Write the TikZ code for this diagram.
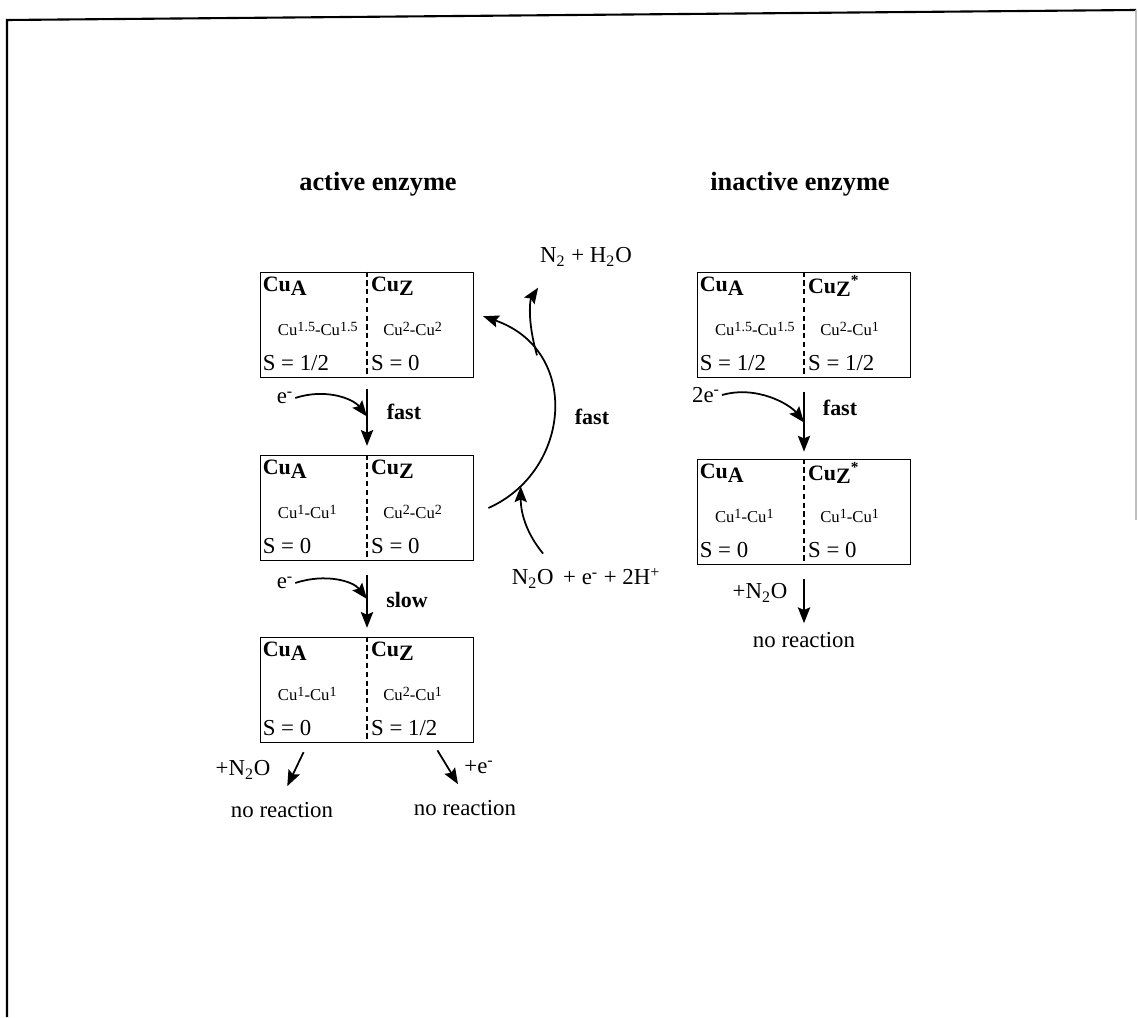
\documentclass[tikz,border=0pt]{standalone}
\usepackage{fontspec}
\setmainfont{Liberation Serif}
\usetikzlibrary{arrows.meta,calc,positioning}

% oxidation state, raised; copper site label
\newcommand{\ox}[1]{\raisebox{0.55ex}{\fontsize{8}{8}\selectfont #1}}
\newcommand{\site}[1]{Cu\raisebox{-0.35ex}{#1}}

% one state box: name, centre, left head, right head, left ox, right ox, left spin, right spin
\newcommand{\cubox}[8]{%
  \node[statebox] (#1) at #2 {};
  \draw[divider] (#1.north) -- (#1.south);
  \node[boxhead] (#1-hl) at ($(#1.west)+(1,-39)$) {#3};
  \node[boxhead] (#1-hr) at ($(#1.center)+(2,-39)$) {#4};
  \node[oxlabel] (#1-ol) at ($(#1.west)+(18,4)$) {#5};
  \node[oxlabel] (#1-or) at ($(#1.center)+(16,4)$) {#6};
  \node[spinlabel] (#1-sl) at ($(#1.west)+(1,38)$) {#7};
  \node[spinlabel] (#1-sr) at ($(#1.center)+(2,38)$) {#8};
}

\begin{document}
\begin{tikzpicture}[x=0.02cm, y=-0.02cm,
  statebox/.style={draw, line width=1pt, minimum width=4.26cm, minimum height=2.1cm, inner sep=0pt},
  divider/.style={line width=0.7pt, dash pattern=on 3pt off 2pt},
  boxhead/.style={font=\fontsize{12.5}{14}\selectfont\bfseries, inner sep=1pt, anchor=west},
  oxlabel/.style={font=\fontsize{9.5}{11}\selectfont, inner sep=0pt, anchor=west},
  spinlabel/.style={font=\fontsize{13}{15}\selectfont, inner sep=1pt, anchor=west},
  heading/.style={font=\fontsize{15}{18}\selectfont\bfseries},
  species/.style={font=\fontsize{13}{15}\selectfont, inner sep=1pt},
  ratelabel/.style={font=\fontsize{12.5}{14}\selectfont\bfseries, inner sep=1pt},
  rxn/.style={line width=1pt, -{Stealth[length=9pt, width=7pt, inset=1.5pt]}},
]
\useasboundingbox (0,0) rectangle (1138,1017);

% === Frame ===
\draw[line width=1.2pt] (7,1017) -- (7,20) -- (1136,10);
\draw[gray!50, line width=0.6pt] (1136,10) -- (1136,520);

% === Headings ===
\node[heading] (headAct) at (378,184) {active enzyme};
\node[heading] (headInact) at (800,184) {inactive enzyme};

% === Active enzyme ===
\cubox{actOne}{(367,325)}{\site{A}}{\site{Z}}{Cu\ox{1.5}-Cu\ox{1.5}}{Cu\ox{2}-Cu\ox{2}}{S = 1/2}{S = 0}
\cubox{actTwo}{(367,508)}{\site{A}}{\site{Z}}{Cu\ox{1}-Cu\ox{1}}{Cu\ox{2}-Cu\ox{2}}{S = 0}{S = 0}
\cubox{actThree}{(367,690)}{\site{A}}{\site{Z}}{Cu\ox{1}-Cu\ox{1}}{Cu\ox{2}-Cu\ox{1}}{S = 0}{S = 1/2}

% first reduction
\node[species] (eOne) at (285,398) {e\textsuperscript{-}};
\node[ratelabel] (fastOne) at (404,412) {fast};
\draw[rxn, shorten <=6pt, shorten >=5pt] (actOne.south) -- (actTwo.north);
\coordinate (jOne) at ($(actOne.south)!0.5!(actTwo.north)$);
\draw[rxn] (eOne.east) .. controls +(30,-10) and +(-14,-18) .. (jOne);

% second reduction
\node[species] (eTwo) at (285,583) {e\textsuperscript{-}};
\node[ratelabel] (slowTwo) at (407,600) {slow};
\draw[rxn, shorten <=8pt, shorten >=5pt] (actTwo.south) -- (actThree.north);
\coordinate (jTwo) at ($(actTwo.south)!0.5!(actThree.north)$);
\draw[rxn] (eTwo.east) .. controls +(30,-10) and +(-14,-18) .. (jTwo);

% catalytic turnover
\node[species] (prod) at (586,257) {N\textsubscript{2} + H\textsubscript{2}O};
\node[species] (subs) at (586,578) {N\textsubscript{2}O\, + e\textsuperscript{-} + 2H\textsuperscript{+}};
\node[ratelabel] (fastCyc) at (592,417) {fast};
\coordinate (cycStart) at ([xshift=8pt]actTwo.east);
\coordinate (cycEnd) at ([xshift=5pt, yshift=5pt]actOne.east);
\draw[rxn] (cycStart) .. controls +(83,-37) and +(98,34) .. (cycEnd)
  coordinate[pos=0.15] (cycIn) coordinate[pos=0.75] (cycOut);
\coordinate (prodTip) at ([yshift=-11pt]prod.south west);
\draw[rxn] (cycOut) .. controls +(-10,-35) and +(-8,12) .. (prodTip);
\draw[rxn] ([xshift=19pt, yshift=7pt]subs.north west) .. controls +(-18,-22) and +(0,25) .. (cycIn);

% dead ends
\node[species] (nOxL) at (243,770) {+N\textsubscript{2}O};
\node[species] (noRxnL) at (282,810) {no reaction};
\node[species] (eR) at (479,767) {+e\textsuperscript{-}};
\node[species] (noRxnR) at (465,808) {no reaction};
\draw[rxn] ([xshift=25pt, yshift=-5pt]actThree.south west) -- ([xshift=3pt, yshift=8pt]noRxnL.north);
\draw[rxn] ([xshift=-21pt, yshift=-4pt]actThree.south east) -- ([xshift=-4pt, yshift=8pt]noRxnR.north);

% === Inactive enzyme ===
\cubox{inaOne}{(804,325)}{\site{A}}{\site{Z}\textsuperscript{*}}{Cu\ox{1.5}-Cu\ox{1.5}}{Cu\ox{2}-Cu\ox{1}}{S = 1/2}{S = 1/2}
\cubox{inaTwo}{(804,512)}{\site{A}}{\site{Z}\textsuperscript{*}}{Cu\ox{1}-Cu\ox{1}}{Cu\ox{1}-Cu\ox{1}}{S = 0}{S = 0}

\node[species] (eB) at (706,395) {2e\textsuperscript{-}};
\node[ratelabel] (fastB) at (840,408) {fast};
\draw[rxn, shorten <=8pt, shorten >=4pt] (inaOne.south) -- (inaTwo.north);
\coordinate (jB) at ($(inaOne.south)!0.55!(inaTwo.north)$);
\draw[rxn] (eB.east) .. controls +(35,-10) and +(-14,-18) .. (jB);

\node[species] (nOxB) at (760,593) {+N\textsubscript{2}O};
\node[species] (noRxnB) at (804,640) {no reaction};
\draw[rxn, shorten <=8pt] (inaTwo.south) -- ([yshift=4pt]noRxnB.north);

\end{tikzpicture}
\end{document}
